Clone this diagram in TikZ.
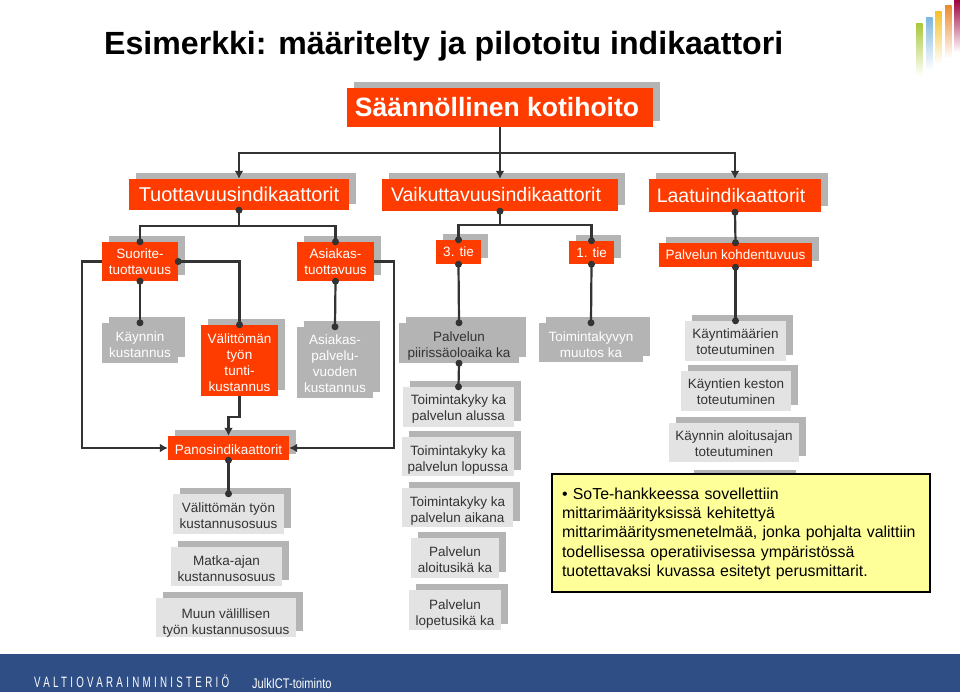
\documentclass[tikz,border=0pt]{standalone}
\usepackage{fontspec}
\setmainfont{Liberation Sans}
\newfontfamily\vmfont[LetterSpace=22,FakeStretch=0.65]{Liberation Sans}
\newfontfamily\julkfont[FakeStretch=0.79]{Liberation Sans}
\usepackage{tikz}
\usetikzlibrary{arrows.meta,shadows}
\definecolor{oranssi}{HTML}{FF3C00}
\definecolor{harmaa}{HTML}{B4B4B4}
\definecolor{vaalea}{HTML}{E3E3E3}
\definecolor{tumma}{HTML}{333333}
\definecolor{keltainen}{HTML}{FFFF99}
\definecolor{sininen}{HTML}{2F4E85}
\definecolor{logoa}{HTML}{A9C93C}
\definecolor{logob}{HTML}{7FB7E0}
\definecolor{logoc}{HTML}{F5C12C}
\definecolor{logod}{HTML}{EE8B30}
\definecolor{logoe}{HTML}{A0003C}
\newcommand{\alas}[1][14pt]{\rule{0pt}{#1}}
\tikzset{
  laatikko/.style={inner sep=0pt,align=center,font=\fontsize{13.5}{16}\selectfont,
                   general shadow={shadow xshift=6.5pt,shadow yshift=6pt,fill=harmaa}},
  kooste/.style={laatikko,fill=oranssi,text=white},
  otsikko/.style={kooste,font=\fontsize{19.5}{22}\selectfont},
  harmaalaat/.style={laatikko,fill=harmaa,text=white},
  mittari/.style={laatikko,fill=vaalea,text=tumma},
  viiva/.style={draw=tumma,line width=2.2pt},
  nuoli/.style={viiva,-{Latex[length=8pt,width=9pt]}},
  pont/.style={circle,fill=tumma,inner sep=0pt,minimum size=7pt},
}
\begin{document}
\begin{tikzpicture}[x=1pt,y=-1pt]
  \useasboundingbox (0,0) rectangle (960,692);
  % logo and footer
  \foreach \xx/\yy/\vari in {916/24/logoa,926/18/logob,935/12/logoc,945/6/logod,954/0/logoe} {
    \shade[top color=\vari,bottom color=white] (\xx,\yy) rectangle (\xx+6.5,\yy+52);
  }
  \fill[sininen] (0,654) rectangle (960,692);
  \node[anchor=west,inner sep=0pt,text=black,font=\fontsize{32.1}{36}\selectfont\bfseries] (iso) at (104,46)
    {Esimerkki: määritelty ja pilotoitu indikaattori};
  \node[anchor=west,inner sep=0pt,text=white,font=\fontsize{15}{17}\vmfont] (vm) at (34,681)
    {VALTIOVARAINMINISTERIÖ};
  \node[anchor=west,inner sep=0pt,text=white,font=\fontsize{14}{16}\julkfont] (julk) at (252,683)
    {JulkICT-toiminto};

  \node[kooste,font=\fontsize{26.5}{30}\selectfont\bfseries,minimum width=306pt,minimum height=39pt] (paa) at (500,107.5) {Säännöllinen kotihoito\hspace*{6pt}};
  \node[otsikko,font=\fontsize{20}{22}\selectfont,minimum width=220pt,minimum height=31pt] (tuotto) at (239,194.5) {Tuottavuusindikaattorit};
  \node[otsikko,minimum width=236pt,minimum height=32pt] (vaikutt) at (500,195) {Vaikuttavuusindikaattorit\hspace*{8pt}};
  \node[otsikko,minimum width=172pt,minimum height=33pt] (laatu) at (735,195.5) {Laatuindikaattorit\hspace*{8pt}};

  \node[kooste,minimum width=76pt,minimum height=39pt] (suorite) at (140,261.5) {Suorite-\\tuottavuus};
  \node[kooste,minimum width=77pt,minimum height=39pt] (asiakas) at (335.5,261.5) {Asiakas-\\tuottavuus};
  \node[kooste,minimum width=45pt,minimum height=24pt] (tie3) at (458.5,252) {3. tie};
  \node[kooste,minimum width=45pt,minimum height=23pt] (tie1) at (591.5,252.5) {1. tie};
  \node[kooste,minimum width=153pt,minimum height=24pt] (kohd) at (735.5,255) {Palvelun kohdentuvuus};

  \node[harmaalaat,minimum width=76pt,minimum height=40pt] (kaynti) at (140,343) {\alas Käynnin\\kustannus};
  \node[kooste,minimum width=77pt,minimum height=71pt] (valit) at (239.5,360.5) {\alas Välittömän\\työn\\tunti-\\kustannus};
  \node[harmaalaat,minimum width=76pt,minimum height=71pt] (asva) at (335,362.5) {\alas[13pt]Asiakas-\\palvelu-\\vuoden\\kustannus};
  \node[kooste,minimum width=121pt,minimum height=24pt] (panos) at (228.5,448) {\alas Panosindikaattorit};

  \node[harmaalaat,text=tumma,minimum width=120pt,minimum height=40pt] (piiri) at (459,343) {\alas[15pt]Palvelun\\piirissäoloaika ka};
  \node[harmaalaat,minimum width=104pt,minimum height=39pt] (kyky) at (591,342.5) {\alas Toimintakyvyn\\muutos ka};

  \node[mittari,minimum width=111pt,minimum height=40pt] (alussa) at (458.5,407) {\alas Toimintakyky ka\\palvelun alussa};
  \node[mittari,minimum width=112pt,minimum height=39pt] (lopussa) at (458,456.5) {\alas[16pt]Toimintakyky ka\\palvelun lopussa};
  \node[mittari,minimum width=111pt,minimum height=39pt] (aikana) at (457.5,507.5) {\alas[16pt]Toimintakyky ka\\palvelun aikana};
  \node[mittari,minimum width=88pt,minimum height=40pt] (aloit) at (455,558) {\alas Palvelun\\aloitusikä ka};
  \node[mittari,minimum width=92pt,minimum height=40pt] (lopet) at (455,610) {\alas[18pt]Palvelun\\lopetusikä ka};

  \node[mittari,minimum width=101pt,minimum height=40pt] (kmaara) at (735.5,341) {\alas[12pt]Käyntimäärien\\toteutuminen};
  \node[mittari,minimum width=110pt,minimum height=40pt] (kkesto) at (736,391) {\alas[12pt]Käyntien keston\\toteutuminen};
  \node[mittari,minimum width=130pt,minimum height=39pt] (kaloi) at (734,442.5) {\alas[12pt]Käynnin aloitusajan\\toteutuminen};
  \node[mittari,minimum width=102pt,minimum height=40pt] (piilo) at (738,496) {};

  \node[mittari,minimum width=111pt,minimum height=40pt] (tkosuus) at (228.5,514) {\alas Välittömän työn\\kustannusosuus};
  \node[mittari,minimum width=111pt,minimum height=39pt] (matka) at (226.5,566.5) {\alas Matka-ajan\\kustannusosuus};
  \node[mittari,minimum width=140pt,minimum height=39pt] (muun) at (226,617.5) {\alas[20pt]Muun välillisen\\työn kustannusosuus};

  \node[draw=black,line width=2pt,fill=keltainen,inner sep=0pt,text width=358pt,minimum width=378pt,minimum height=118pt,
        align=left,text=black,font=\fontsize{15.9}{19.3}\selectfont] (huom) at (741,533)
    {\alas[13pt]• SoTe-hankkeessa sovellettiin\\mittarimäärityksissä kehitettyä\\mittarimääritysmenetelmää, jonka pohjalta valittiin\\todellisessa operatiivisessa ympäristössä\\tuotettavaksi kuvassa esitetyt perusmittarit.};

  % connectors
  \draw[nuoli] (paa.south) -- ++(0,26) -| (tuotto.north);
  \draw[nuoli] (paa.south) -- ++(0,26) -| (laatu.north);
  \draw[nuoli] (paa.south) -- (vaikutt.north);
  \draw[viiva] (tuotto.south) -- ++(0,16) -| (suorite.north);
  \draw[viiva] (tuotto.south) -- ++(0,16) -| (asiakas.north);
  \draw[viiva] (vaikutt.south) -- ++(0,14) -| (tie3.north);
  \draw[viiva] (vaikutt.south) -- ++(0,14) -| (tie1.north);
  \draw[viiva] (laatu.south) -- (kohd.north);
  \draw[viiva] (suorite.south) -- (kaynti.north);
  \draw[viiva] (suorite.east) -| (valit.north);
  \draw[viiva] (asiakas.south) -- (asva.north);
  \draw[nuoli] (suorite.west) -- ++(-20,0) |- (panos.west);
  \draw[nuoli] (asiakas.east) -- ++(20,0) |- (panos.east);
  \draw[nuoli] (valit.south) -- ++(0,21) -| (panos.north);
  \draw[viiva] (panos.south) -- (tkosuus.north);
  \draw[viiva] (tie3.south) -- (piiri.north);
  \draw[viiva] (piiri.south) -- (alussa.north);
  \draw[viiva] (tie1.south) -- (kyky.north);
  \draw[viiva] (kohd.south) -- (kmaara.north);
  \foreach \p [count=\i] in {tuotto.south,suorite.north,asiakas.north,suorite.south,kaynti.north,suorite.east,
      valit.north,asiakas.south,asva.north,panos.south,tkosuus.north,vaikutt.south,tie3.north,tie1.north,
      tie3.south,piiri.north,piiri.south,alussa.north,tie1.south,kyky.north,laatu.south,kohd.north,
      kohd.south,kmaara.north}
    \node[pont] (pont\i) at (\p) {};
\end{tikzpicture}
\end{document}
